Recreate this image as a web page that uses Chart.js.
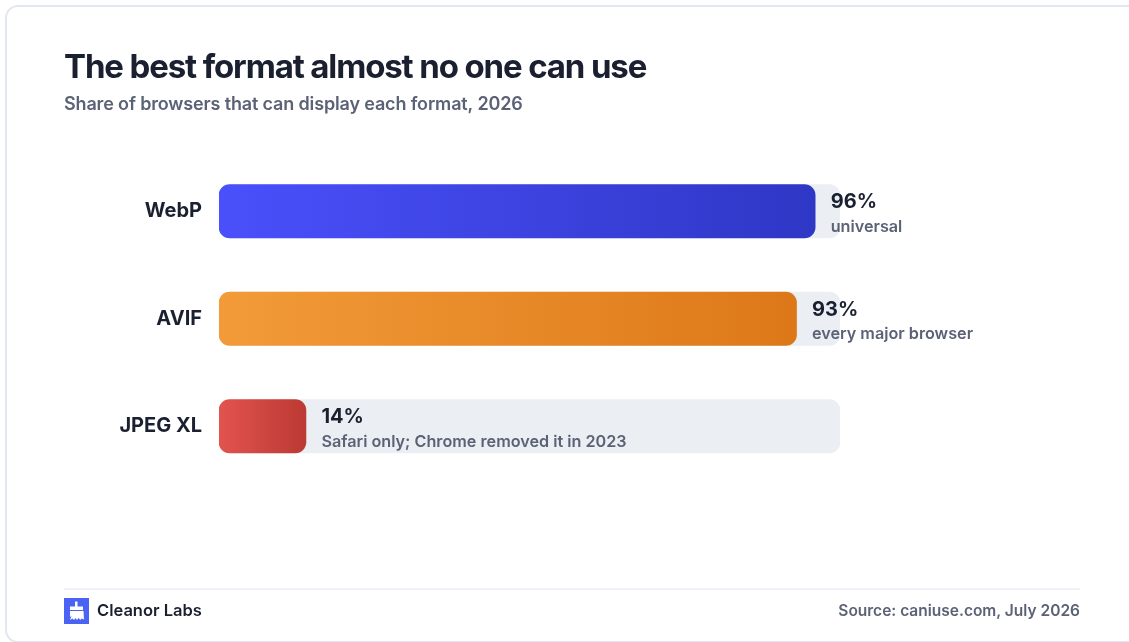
<!DOCTYPE html>
<html lang="en">
<head>
<meta charset="utf-8">
<title>The best format almost no one can use</title>
<script src="https://cdn.jsdelivr.net/npm/chart.js@4/dist/chart.umd.min.js"></script>
<style>
  html, body { margin: 0; padding: 0; background: #fff; width: 1129px; height: 642px; overflow: hidden; }
  body { position: relative; font-family: Inter, "Noto Sans", sans-serif; }
  .card { position: absolute; left: 5px; top: 5px; width: 1200px; height: 638px; box-sizing: border-box;
          border: 2px solid #e3e7f3; border-radius: 13px; background: #fff; }
  canvas { position: absolute; left: 0; top: 0; }
  .rule { position: absolute; left: 64px; top: 588px; width: 1016px; height: 2px; background: #eef1f5; }
  .logo { position: absolute; left: 64px; top: 598px; width: 25px; height: 26px; }
  .brand { position: absolute; left: 97px; top: 600px; font-size: 16.500px; line-height: 21px; font-weight: 600; color: #1a2030; }
  .source { position: absolute; right: 49px; top: 601px; font-size: 15.500px; line-height: 20px; font-weight: 600; color: #5b6275; }
</style>
</head>
<body>
<div class="card"></div>
<canvas id="chart" width="1129" height="642"></canvas>
<div class="rule"></div>
<svg class="logo" viewBox="0 0 25 26" aria-hidden="true">
  <rect width="25" height="26" fill="#4a63f5"/>
  <path fill="#fff" d="M11 3.500h2.500v5h-2.500zM6 8.500h13v3.500h-13zM6 13h13.500l.5 8.500-2.500-1-1 1.500-2-2-1.500 2-1.500-2-1.500 2-1.500-1.500-2.500 1.500 1.500-4-1.500 1z"/>
</svg>
<div class="brand">Cleanor Labs</div>
<div class="source">Source: caniuse.com, July 2026</div>
<script>
// Browser support per image format
const formats = ['WebP', 'AVIF', 'JPEG XL'];
const supportShare = [96, 93, 14];
const trackShare = [100, 100, 100];
const notes = ['universal', 'every major browser', 'Safari only; Chrome removed it in 2023'];

const barStops = [
  ['#4a50fb', '#2f37c6'],
  ['#f29b38', '#dd7818'],
  ['#e2534e', '#bb3a33']
];
const INK = '#1a2030';
const MUTED = '#5b6275';
const FONT = 'Inter, "Noto Sans", sans-serif';
const TITLE_TRACKING = '-1.13px';
const SUBTITLE_TRACKING = '-0.15px';

// Tightens the heading lines, which Chart.js has no tracking option for
const headingTracking = {
  id: 'headingTracking',
  afterInit(chart) {
    chart.boxes.forEach((box) => {
      const spacing = box.options.text === chart.options.plugins.title.text ? TITLE_TRACKING
        : box.options.text === chart.options.plugins.subtitle.text ? SUBTITLE_TRACKING : null;
      if (!spacing) return;
      const draw = box.draw;
      box.draw = function (...args) {
        chart.ctx.letterSpacing = spacing;
        draw.apply(box, args);
        chart.ctx.letterSpacing = '0px';
      };
    });
  }
};

// Writes the percentage and its note just past the end of each bar
const endLabels = {
  id: 'endLabels',
  afterDatasetsDraw(chart) {
    const { ctx } = chart;
    const meta = chart.getDatasetMeta(1);
    ctx.save();
    ctx.textAlign = 'left';
    ctx.textBaseline = 'middle';
    meta.data.forEach((bar, i) => {
      const x = bar.x + 15.5;
      ctx.fillStyle = INK;
      ctx.font = '700 20px ' + FONT;
      ctx.fillText(supportShare[i] + '%', x, bar.y - 9);
      ctx.fillStyle = MUTED;
      ctx.font = '600 16.200px ' + FONT;
      ctx.fillText(notes[i], x, bar.y + 15.5);
    });
    ctx.restore();
  }
};

new Chart(document.getElementById('chart'), {
  type: 'bar',
  plugins: [headingTracking, endLabels],
  data: {
    labels: formats,
    datasets: [
      {
        label: 'Track',
        data: trackShare,
        backgroundColor: '#ebeff4',
        order: 2
      },
      {
        label: 'Share of browsers',
        data: supportShare,
        order: 1,
        backgroundColor(c) {
          const { chart, dataIndex } = c;
          const stops = barStops[dataIndex] || barStops[0];
          const scale = chart.scales.x;
          if (!scale || dataIndex === undefined) return stops[0];
          const from = scale.getPixelForValue(0);
          const to = scale.getPixelForValue(supportShare[dataIndex]);
          if (!Number.isFinite(from) || !Number.isFinite(to)) return stops[0];
          const g = chart.ctx.createLinearGradient(from, 0, to, 0);
          g.addColorStop(0, stops[0]);
          g.addColorStop(1, stops[1]);
          return g;
        }
      }
    ]
  },
  options: {
    indexAxis: 'y',
    responsive: false,
    animation: false,
    events: [],
    layout: { padding: { left: 64, right: 289, top: 48, bottom: 162 } },
    datasets: {
      bar: { grouped: false, barThickness: 53.500, borderRadius: 11, borderSkipped: false }
    },
    scales: {
      x: { display: false, min: 0, max: 100 },
      y: {
        afterFit(axis) { axis.width = 155; },
        grid: { display: false },
        border: { display: false },
        ticks: { color: INK, padding: 9, font: { family: FONT, size: 20, weight: '700' } }
      }
    },
    plugins: {
      legend: { display: false },
      tooltip: { enabled: false },
      title: {
        display: true,
        align: 'start',
        text: 'The best format almost no one can use',
        color: INK,
        font: { family: FONT, size: 33, weight: '700', lineHeight: 1.2 },
        padding: { top: 0, bottom: 6.4 }
      },
      subtitle: {
        display: true,
        align: 'start',
        text: 'Share of browsers that can display each format, 2026',
        color: MUTED,
        font: { family: FONT, size: 18, weight: '600', lineHeight: 1.2 },
        padding: { top: 0, bottom: 41.9 }
      }
    }
  }
});
</script>
</body>
</html>
